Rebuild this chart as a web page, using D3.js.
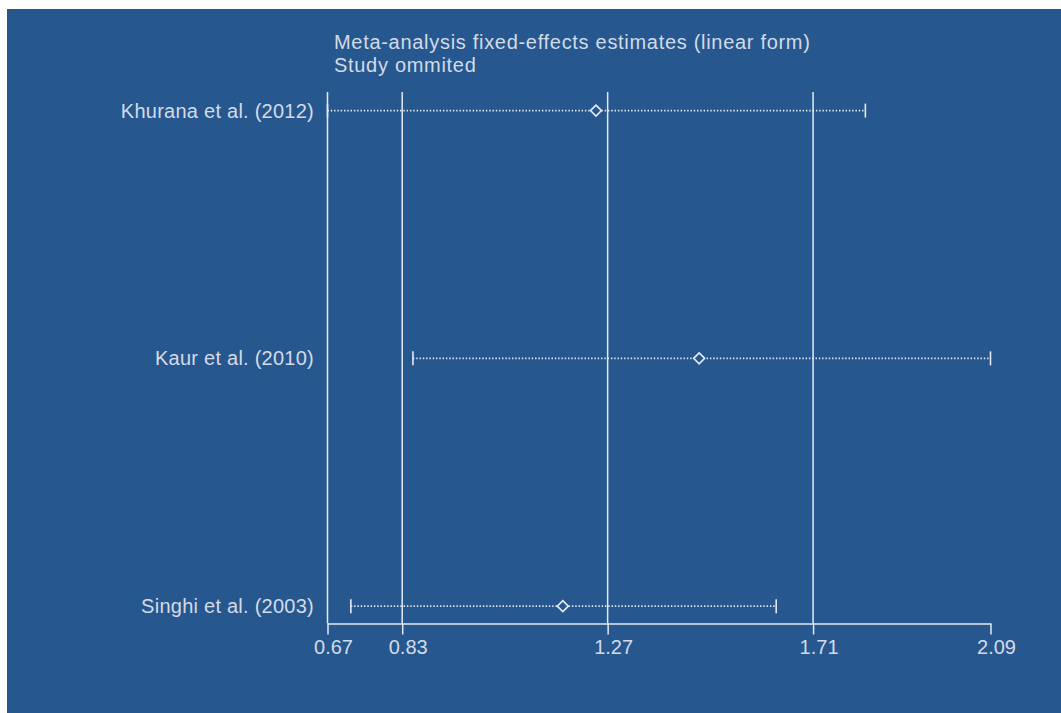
<!DOCTYPE html>
<html><head><meta charset="utf-8">
<script src="https://cdn.jsdelivr.net/npm/d3@7"></script>
<style>html,body{margin:0;padding:0;background:#fff;}svg{display:block;}</style>
</head><body>
<svg id="c" width="1061" height="713"></svg>
<script>
const studies = ["Singhi et al. (2003)", "Kaur et al. (2010)", "Khurana et al. (2012)"];
const rowPos = [1, 2, 3];
const estimates = [1.174, 1.466, 1.245];
const lowerCI = [0.72, 0.853, 0.67];
const upperCI = [1.631, 2.09, 1.822];
const tickValues = [0.67, 0.83, 1.27, 1.71, 2.09];
const titleLines = ["Meta-analysis fixed-effects estimates (linear form)", "Study ommited"];

const bg = "#27578f", fg = "#e4eaf1", txt = "#d3dbe6";
const svg = d3.select("#c");
svg.append("rect").attr("x", 7).attr("y", 9).attr("width", 1054).attr("height", 704).attr("fill", bg);

const x = d3.scaleLinear().domain([0.67, 2.09]).range([327.5, 990.5]);
const y = d3.scaleLinear().domain([0.93, 3.075]).range([623.5, 92]);
const font = "'Liberation Sans', Arial, sans-serif";

// vertical gridlines at inner ticks
svg.append("g").selectAll("line").data(tickValues.slice(1, -1)).join("line")
  .attr("x1", d => x(d)).attr("x2", d => x(d))
  .attr("y1", y.range()[1]).attr("y2", y.range()[0])
  .attr("stroke", fg).attr("stroke-width", 1.5);

// left axis line
svg.append("line").attr("x1", x(0.67)).attr("x2", x(0.67))
  .attr("y1", y.range()[1]).attr("y2", y.range()[0])
  .attr("stroke", fg).attr("stroke-width", 1.5);

// x axis
const xAxis = d3.axisBottom(x).tickValues(tickValues).tickSize(11).tickSizeOuter(0)
  .tickFormat(d3.format(".2f"));
const gx = svg.append("g").attr("transform", `translate(0,${y.range()[0]})`).call(xAxis);
gx.select(".domain").attr("stroke", fg).attr("stroke-width", 1.5);
gx.selectAll(".tick line").attr("stroke", fg).attr("stroke-width", 1.5);
gx.selectAll(".tick text").attr("fill", txt).attr("font-family", font).attr("font-size", 20)
  .attr("y", 0).attr("dy", 30.5).attr("dx", 5.5);

// y labels
svg.append("g").selectAll("text").data(studies).join("text")
  .attr("x", 314).attr("y", (d, i) => y(rowPos[i]) + 7)
  .attr("text-anchor", "end").attr("fill", txt).attr("font-family", font).attr("font-size", 20)
  .attr("letter-spacing", 0.25)
  .text(d => d);

// CI lines
const g = svg.append("g");
studies.forEach((s, i) => {
  const yy = y(rowPos[i]);
  g.append("line").attr("x1", x(lowerCI[i])).attr("x2", x(upperCI[i]))
    .attr("y1", yy).attr("y2", yy).attr("stroke", fg).attr("stroke-width", 1.8)
    .attr("stroke-dasharray", "1.4,1.9");
  [lowerCI[i], upperCI[i]].forEach(v => {
    g.append("line").attr("x1", x(v)).attr("x2", x(v)).attr("y1", yy - 7).attr("y2", yy + 7)
      .attr("stroke", fg).attr("stroke-width", 1.6);
  });
  g.append("path").attr("transform", `translate(${x(estimates[i])},${yy})`)
    .attr("d", "M0,-5.5L5.5,0L0,5.5L-5.5,0Z")
    .attr("fill", bg).attr("stroke", fg).attr("stroke-width", 1.6);
});

// title
svg.append("g").selectAll("text").data(titleLines).join("text")
  .attr("x", 334).attr("y", (d, i) => 48.5 + i * 23)
  .attr("fill", txt).attr("font-family", font).attr("font-size", 20)
  .attr("letter-spacing", 0.7).text(d => d);
</script>
</body></html>
